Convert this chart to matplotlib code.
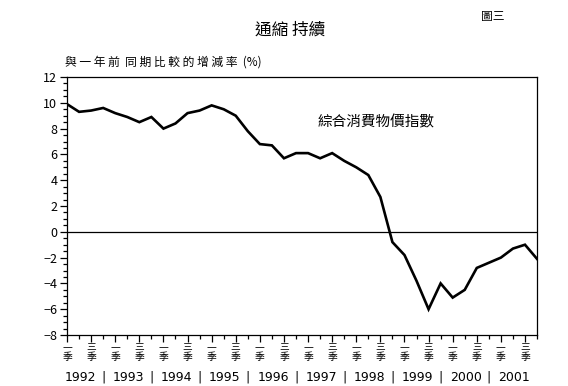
import matplotlib
matplotlib.use("Agg")
import matplotlib.pyplot as plt
from matplotlib.ticker import MultipleLocator

plt.rcParams["font.family"] = ["Noto Sans CJK TC", "DejaVu Sans"]

# quarterly CCPI change, 1992 Q1 .. 2001 Q4
cpi = [9.9, 9.3, 9.4, 9.6, 9.2, 8.9, 8.5, 8.9, 8.0, 8.4,
       9.2, 9.4, 9.8, 9.5, 9.0, 7.8, 6.8, 6.7, 5.7, 6.1,
       6.1, 5.7, 6.1, 5.5, 5.0, 4.4, 2.7, -0.8, -1.8, -3.8,
       -6.0, -4.0, -5.1, -4.5, -2.8, -2.4, -2.0, -1.3, -1.0, -2.1]
years = [1992, 1993, 1994, 1995, 1996, 1997, 1998, 1999, 2000, 2001]
quarter_labels = ["一\n季", "三\n季"]

title = "通縮 持續"
fig_no = "圖三"
ylabel = "與 一 年 前  同 期 比 較 的 增 減 率  (%)"
series_name = "綜合消費物價指數"

fig = plt.figure(figsize=(5.68, 3.86), dpi=100, facecolor="white")
ax = fig.add_axes([0.118, 0.1321, 0.8275, 0.6684])

x = list(range(len(cpi)))
ax.plot(x, cpi, color="black", linewidth=1.9, solid_joinstyle="miter")
ax.axhline(0, color="black", linewidth=0.9)

ax.set_xlim(0, len(cpi) - 1)
ax.set_ylim(-8, 12)
ax.yaxis.set_major_locator(MultipleLocator(2))
ax.yaxis.set_minor_locator(MultipleLocator(0.5))
ax.tick_params(axis="y", which="major", direction="out", length=5, width=0.9, labelsize=9, pad=2)
ax.tick_params(axis="y", which="minor", direction="out", length=3, width=0.9)

ax.set_xticks(range(0, len(cpi), 2))
ax.set_xticks(range(1, len(cpi), 2), minor=True)
ax.set_xticklabels([quarter_labels[i % 2] for i in range(len(cpi) // 2)],
                   fontsize=7, linespacing=1.0)
ax.tick_params(axis="x", which="major", direction="out", length=5, width=0.9, pad=0)
ax.tick_params(axis="x", which="minor", direction="out", length=3, width=0.9)

for spine in ax.spines.values():
    spine.set_linewidth(0.9)

trans = ax.get_xaxis_transform()
for k, yr in enumerate(years):
    ax.text(4 * k + 1.1, -0.163, str(yr), transform=trans, ha="center", va="center",
            fontsize=9, family="DejaVu Sans")
    if k < len(years) - 1:
        ax.text(4 * k + 3.0, -0.163, "|", transform=trans, ha="center", va="center",
                fontsize=9, family="DejaVu Sans")

ax.text(20.75, 8.5, series_name, ha="left", va="center", fontsize=10.5)

fig.text(0.511, 0.922, title, ha="center", va="center", fontsize=12)
fig.text(0.868, 0.956, fig_no, ha="center", va="center", fontsize=8.5)
fig.text(0.114, 0.839, ylabel, ha="left", va="center", fontsize=8.5)

fig.savefig("out.png", dpi=100, facecolor="white")
